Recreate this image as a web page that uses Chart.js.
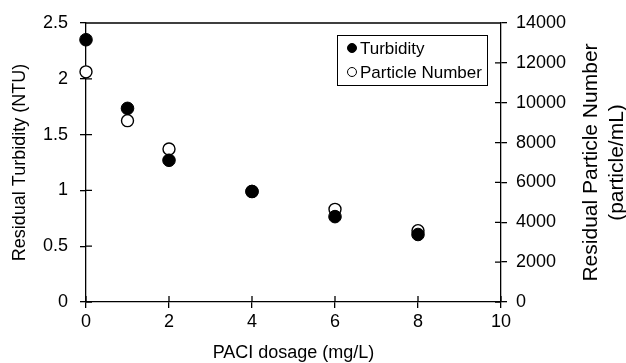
<!DOCTYPE html>
<html>
<head>
<meta charset="utf-8">
<script src="https://cdn.jsdelivr.net/npm/chart.js@4.4.1/dist/chart.umd.min.js"></script>
<style>
  html, body { margin: 0; padding: 0; background: #fff; }
  #wrap { width: 626px; height: 363px; }
</style>
</head>
<body>
<div id="wrap"><canvas id="dosageChart" width="626" height="363"></canvas></div>
<script>
// PACl dosage (mg/L)
const dosage = [0, 1, 2, 4, 6, 8];
// residual turbidity (NTU), left axis
const turbidity = [2.35, 1.735, 1.27, 0.99, 0.765, 0.605];
// residual particle count (particle/mL), right axis
const particles = [11550, 9100, 7680, 5550, 4650, 3580];

const xTicks = [0, 2, 4, 6, 8, 10];
const turbidityTicks = [0, 0.5, 1, 1.5, 2, 2.5];
const particleTicks = [0, 2000, 4000, 6000, 8000, 10000, 12000, 14000];

const FONT = 'Liberation Sans, Arial, Helvetica, sans-serif';
const INK = '#000';

const toPoints = (ys) => dosage.map((x, i) => ({ x: x, y: ys[i] }));

// ticks cross the axis, so the inner half is drawn by hand
const frame = {
  id: 'frame',
  afterDraw(chart) {
    const { ctx, chartArea: a, scales } = chart;
    ctx.save();
    ctx.strokeStyle = INK;
    ctx.lineWidth = 1.3;
    ctx.beginPath();
    ctx.moveTo(a.left, a.top);
    ctx.lineTo(a.right, a.top);
    xTicks.forEach(v => {
      const px = scales.x.getPixelForValue(v);
      ctx.moveTo(px, a.bottom);
      ctx.lineTo(px, a.bottom - 6);
    });
    turbidityTicks.forEach(v => {
      const py = scales.y.getPixelForValue(v);
      ctx.moveTo(a.left, py);
      ctx.lineTo(a.left + 6, py);
    });
    particleTicks.forEach(v => {
      const py = scales.y2.getPixelForValue(v);
      ctx.moveTo(a.right, py);
      ctx.lineTo(a.right - 6, py);
    });
    ctx.stroke();

    // axis titles
    ctx.fillStyle = INK;
    ctx.textAlign = 'center';
    ctx.textBaseline = 'middle';
    ctx.font = '18px ' + FONT;
    ctx.fillText('PACI dosage (mg/L)', (a.left + a.right) / 2, 353);

    const vertical = (text, x, y, size) => {
      ctx.save();
      ctx.translate(x, y);
      ctx.rotate(-Math.PI / 2);
      ctx.font = size + 'px ' + FONT;
      ctx.fillText(text, 0, 0);
      ctx.restore();
    };
    const midY = (a.top + a.bottom) / 2;
    vertical('Residual Turbidity (NTU)', 20, midY, 18);
    vertical('Residual Particle Number', 591, midY, 21);
    vertical('(particle/mL)', 617, midY, 21);
    ctx.restore();
  },
  afterDatasetsDraw(chart) {
    // legend box inside the plot
    const { ctx } = chart;
    const ds = chart.data.datasets;
    ctx.save();
    ctx.fillStyle = '#fff';
    ctx.strokeStyle = INK;
    ctx.lineWidth = 1;
    ctx.fillRect(337, 35, 150, 50);
    ctx.strokeRect(337.5, 35.5, 150, 50);
    ctx.font = '17px ' + FONT;
    ctx.textBaseline = 'middle';
    ctx.textAlign = 'left';
    [48, 72].forEach((y, i) => {
      ctx.beginPath();
      ctx.arc(352, y, 4.5, 0, Math.PI * 2);
      ctx.fillStyle = ds[i].backgroundColor;
      ctx.fill();
      ctx.lineWidth = 1;
      ctx.strokeStyle = INK;
      ctx.stroke();
      ctx.fillStyle = INK;
      ctx.fillText(ds[i].label, 360, y + 1);
    });
    ctx.restore();
  }
};

const axisBase = () => ({
  border: { color: INK, width: 1.3 },
  grid: { drawOnChartArea: false, color: INK, lineWidth: 1.3, tickLength: 6 },
  ticks: { color: INK, font: { family: FONT, size: 18 } }
});

new Chart(document.getElementById('dosageChart'), {
  type: 'scatter',
  data: {
    datasets: [
      {
        label: 'Turbidity',
        data: toPoints(turbidity),
        yAxisID: 'y',
        pointRadius: 6.3,
        pointHoverRadius: 6.3,
        backgroundColor: INK,
        borderColor: INK,
        borderWidth: 1,
        clip: false
      },
      {
        label: 'Particle Number',
        data: toPoints(particles),
        yAxisID: 'y2',
        pointRadius: 6,
        pointHoverRadius: 6,
        backgroundColor: '#fff',
        borderColor: INK,
        borderWidth: 1.4,
        clip: false
      }
    ]
  },
  options: {
    responsive: false,
    animation: false,
    layout: { padding: { top: 23, left: 0, right: 0, bottom: 0 } },
    plugins: { legend: { display: false }, tooltip: { enabled: false } },
    scales: {
      x: {
        ...axisBase(),
        type: 'linear',
        min: 0,
        max: 10,
        afterBuildTicks: (s) => { s.ticks = xTicks.map(v => ({ value: v })); },
        ticks: { ...axisBase().ticks, padding: 3, maxRotation: 0 },
        afterFit: (s) => { s.height = 61; }
      },
      y: {
        ...axisBase(),
        position: 'left',
        min: 0,
        max: 2.5,
        afterBuildTicks: (s) => { s.ticks = turbidityTicks.map(v => ({ value: v })); },
        ticks: { ...axisBase().ticks, padding: 12, callback: (v) => String(v) },
        afterFit: (s) => { s.width = 86; }
      },
      y2: {
        ...axisBase(),
        position: 'right',
        min: 0,
        max: 14000,
        afterBuildTicks: (s) => { s.ticks = particleTicks.map(v => ({ value: v })); },
        ticks: { ...axisBase().ticks, padding: 9, callback: (v) => String(v) },
        afterFit: (s) => { s.width = 125; }
      }
    }
  },
  plugins: [frame]
});
</script>
</body>
</html>
